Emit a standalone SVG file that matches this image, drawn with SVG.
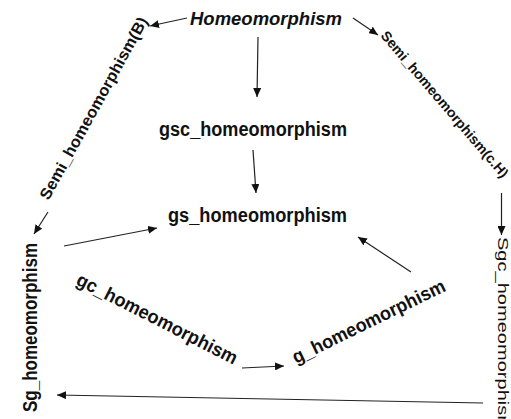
<svg xmlns="http://www.w3.org/2000/svg" width="511" height="419" viewBox="0 0 511 419">
<defs>
<marker id="ah" markerWidth="10" markerHeight="8" refX="9" refY="4" orient="auto" markerUnits="userSpaceOnUse">
<path d="M0,0 L9,4 L0,8 Z" fill="#111"/>
</marker>
</defs>
<style>
.t{font-family:"Liberation Sans",Arial,sans-serif;fill:#111;font-weight:bold}
.r{font-family:"Liberation Sans",Arial,sans-serif;fill:#111;font-weight:normal}
.c{stroke:#222;stroke-width:1.2;fill:none;marker-end:url(#ah)}
</style>
<rect width="511" height="419" fill="#fff"/>
<g id="connectors">
<line class="c" x1="187" y1="18" x2="150" y2="26"/>
<line class="c" x1="353" y1="18" x2="378" y2="35"/>
<line class="c" x1="258" y1="37" x2="257" y2="97"/>
<line class="c" x1="253" y1="150" x2="256" y2="193"/>
<line class="c" x1="48" y1="212" x2="34" y2="234"/>
<line class="c" x1="501.5" y1="193" x2="501.5" y2="235"/>
<line class="c" x1="64" y1="246" x2="157" y2="228"/>
<line class="c" x1="411" y1="272" x2="358" y2="237"/>
<line class="c" x1="242" y1="368" x2="284" y2="366"/>
<line class="c" x1="483" y1="403" x2="57" y2="395"/>
</g>
<g id="homeomorphism"><text class="t" x="190" y="25" font-size="19" font-style="italic" textLength="152" lengthAdjust="spacingAndGlyphs">Homeomorphism</text></g>
<g id="gsc_homeomorphism"><text class="t" x="159" y="136" font-size="20" textLength="188" lengthAdjust="spacingAndGlyphs">gsc_homeomorphism</text></g>
<g id="gs_homeomorphism"><text class="t" x="168" y="222" font-size="20" textLength="179" lengthAdjust="spacingAndGlyphs">gs_homeomorphism</text></g>
<g id="semi_b"><text class="t" transform="translate(94,108.5) rotate(-61)" x="0" y="5" text-anchor="middle" font-size="16" textLength="206" lengthAdjust="spacingAndGlyphs">Semi_homeomorphism(B)</text></g>
<g id="semi_ch"><text class="t" transform="translate(380,36) rotate(49.5)" x="0" y="0" font-size="14" textLength="188" lengthAdjust="spacingAndGlyphs">Semi_homeomorphism(c.H)</text></g>
<g id="sg_homeomorphism"><text class="t" transform="translate(37,412) rotate(-90)" x="0" y="0" font-size="20.5" textLength="169" lengthAdjust="spacingAndGlyphs">Sg_homeomorphism</text></g>
<g id="sgc_homeomorphism"><text class="r" transform="translate(497.5,237) rotate(90)" x="0" y="0" font-size="15" textLength="195" lengthAdjust="spacingAndGlyphs">Sgc_homeomorphism</text></g>
<g id="gc_homeomorphism"><text class="t" transform="translate(75,284) rotate(27)" x="0" y="0" font-size="19" textLength="178" lengthAdjust="spacingAndGlyphs">gc_homeomorphism</text></g>
<g id="g_homeomorphism"><text class="t" transform="translate(296,364) rotate(-26)" x="0" y="0" font-size="19" textLength="168" lengthAdjust="spacingAndGlyphs">g_homeomorphism</text></g>
</svg>
